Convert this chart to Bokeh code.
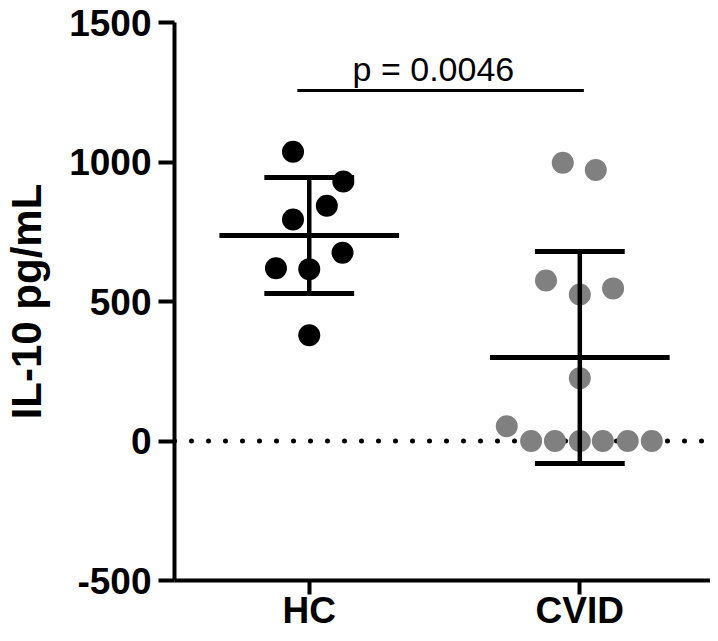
import numpy as np
from bokeh.plotting import figure
from bokeh.models import FixedTicker, Span, Range1d, ColumnDataSource
from bokeh.core.properties import value
from bokeh.embed import file_html
from bokeh.resources import INLINE

# ---- data ----
categories = ["HC", "CVID"]
hc_values = [1037, 930, 843, 794, 675, 619, 616, 379]
hc_offsets = [-0.06, 0.126, 0.065, -0.06, 0.123, -0.123, 0.0, 0.0]
cvid_values = [997, 971, 575, 525, 547, 225, 53, 0, 0, 0, 0, 0, 0]
cvid_offsets = [-0.063, 0.059, -0.125, 0.0, 0.123, 0.0, -0.27, -0.18, -0.092, 0.0, 0.085, 0.177, 0.266]
y_ticks = [-500, 0, 500, 1000, 1500]
y_tick_labels = ["-500", "0", "500", "1000", "1500"]
y_title = "IL-10 pg/mL"
p_text = "p = 0.0046"
p_bar_y = 1256
p_text_y = 1333

FONT = "Liberation Sans"

p = figure(width=710, height=633, output_backend="svg", toolbar_location=None,
           x_range=Range1d(-0.498, 1.483), y_range=Range1d(-500, 1500),
           min_border_left=173, min_border_right=0, min_border_top=22, min_border_bottom=53)
p.outline_line_color = None
p.grid.visible = False
p.background_fill_color = "white"
p.border_fill_color = "white"

# axes
for ax in (p.xaxis[0], p.yaxis[0]):
    ax.axis_line_width = 4
    ax.axis_line_color = "black"
    ax.major_tick_line_width = 4
    ax.major_tick_line_color = "black"
    ax.major_tick_in = 0
    ax.minor_tick_line_color = None
    ax.major_label_text_font = FONT
    ax.major_label_text_font_style = "bold"
    ax.major_label_text_font_size = "37px"
    ax.major_label_text_color = "black"

p.yaxis.ticker = FixedTicker(ticks=y_ticks)
p.yaxis.major_label_overrides = dict(zip(y_ticks, y_tick_labels))
p.yaxis.major_tick_out = 16
p.yaxis.major_label_standoff = 7
p.yaxis.axis_label = y_title
p.yaxis.axis_label_text_font = FONT
p.yaxis.axis_label_text_font_style = "bold"
p.yaxis.axis_label_text_font_size = "42px"
p.yaxis.axis_label_text_color = "black"
p.yaxis.axis_label_standoff = 16

p.xaxis.ticker = FixedTicker(ticks=list(range(len(categories))))
p.xaxis.major_label_overrides = {i: c for i, c in enumerate(categories)}
p.xaxis.major_tick_out = 14
p.xaxis.major_label_standoff = -5

# dotted zero line
zero = Span(location=0, dimension="width", line_color="black", line_width=5,
            line_dash="0 17", line_cap="round", level="underlay")
p.add_layout(zero)

# points
groups = [(hc_values, hc_offsets, "black"), (cvid_values, cvid_offsets, "#808080")]
for i, (vals, offs, col) in enumerate(groups):
    src = ColumnDataSource(dict(x=[i + o for o in offs], y=vals))
    p.scatter("x", "y", source=src, size=22, fill_color=col, line_color=None)

# mean +/- SD
xs, means, sds = [], [], []
for i, (vals, offs, col) in enumerate(groups):
    xs.append(i)
    means.append(float(np.mean(vals)))
    sds.append(float(np.std(vals, ddof=1)))
xs = np.array(xs, dtype=float)
means = np.array(means)
sds = np.array(sds)
mean_hw = 0.332
cap_hw = 0.166
p.segment(x0=xs, y0=means - sds, x1=xs, y1=means + sds, line_color="black", line_width=4.5)
p.segment(x0=xs - mean_hw, y0=means, x1=xs + mean_hw, y1=means, line_color="black", line_width=5)
p.segment(x0=xs - cap_hw, y0=means + sds, x1=xs + cap_hw, y1=means + sds, line_color="black", line_width=5)
p.segment(x0=xs - cap_hw, y0=means - sds, x1=xs + cap_hw, y1=means - sds, line_color="black", line_width=5)

# significance bar
p.segment(x0=[-0.044], y0=[p_bar_y], x1=[1.015], y1=[p_bar_y], line_color="black", line_width=3)
p.text(x=[0.459], y=[p_text_y], text=[p_text], text_font=value(FONT), text_font_size="34px",
       text_align="center", text_baseline="alphabetic", text_color="black")

open("out.html", "w").write(file_html(p, INLINE))
